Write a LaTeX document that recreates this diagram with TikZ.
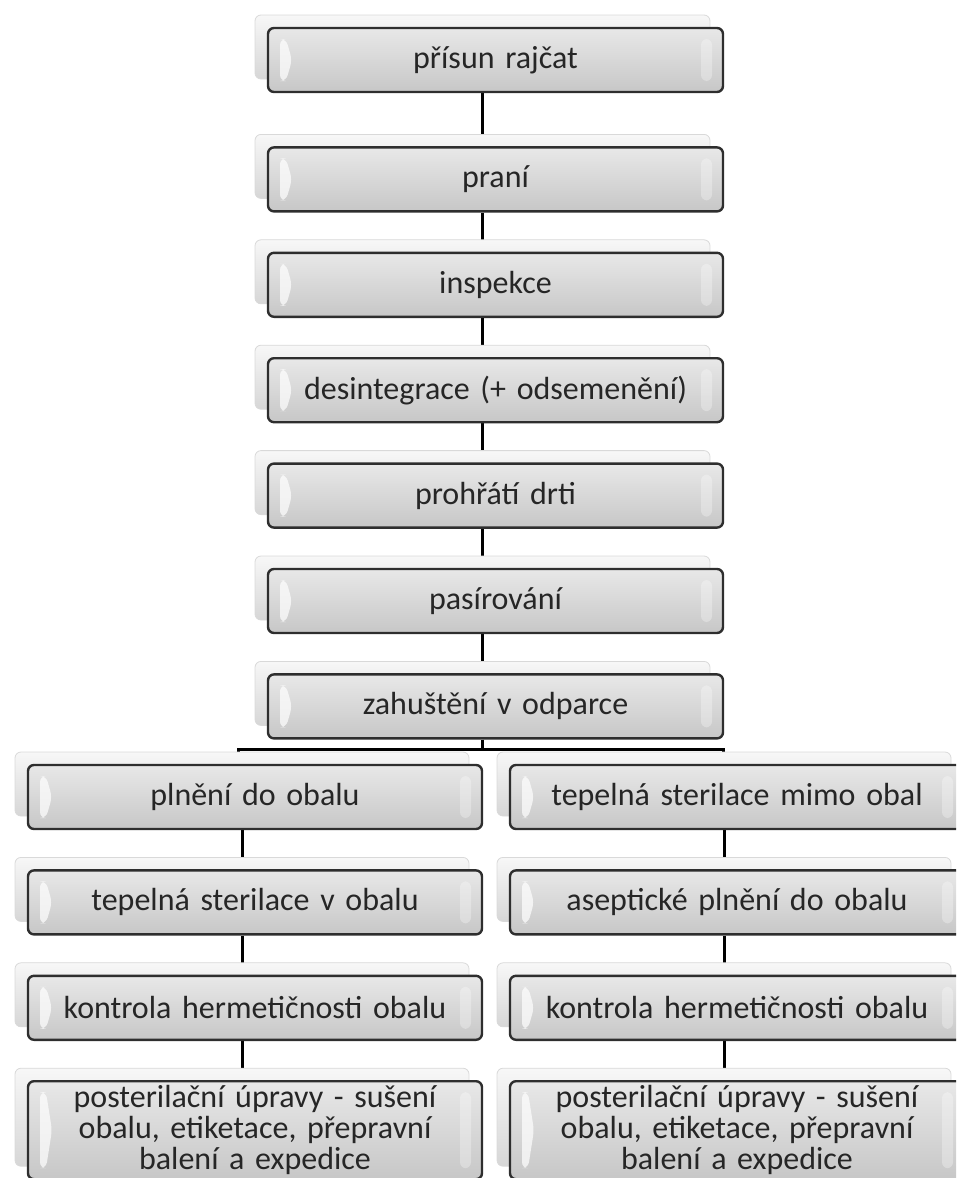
\documentclass[tikz,border=0pt]{standalone}
\usepackage{fontspec}
\setmainfont{Carlito}
\usetikzlibrary{positioning, shadows, backgrounds}

\definecolor{boxedge}{HTML}{2E2E2E}
\definecolor{boxtext}{HTML}{262626}

\begin{document}
\begin{tikzpicture}[
        x=1pt, y=-1pt,
        node distance=39pt,
        step_box/.style={
            draw=boxedge,
            line width=2.4pt,
            rounded corners=6pt,
            minimum width=455pt,
            minimum height=64pt,
            text width=448pt,
            align=center,
            inner sep=0pt,
            top color=black!9,
            bottom color=black!22,
            text=boxtext,
            font=\fontsize{32}{35}\selectfont,
            general shadow={
                shadow xshift=-13pt,
                shadow yshift=13pt,
                draw=black!15,
                line width=0.8pt,
                top color=black!3,
                bottom color=black!16
            },
            path picture={
                \fill[white, opacity=0.7]
                    ([xshift=12pt, yshift=-11pt]path picture bounding box.north west)
                    -- ([xshift=18pt, yshift=-11pt]path picture bounding box.north west)
                    -- ([xshift=24pt]path picture bounding box.west)
                    -- ([xshift=18pt, yshift=11pt]path picture bounding box.south west)
                    -- ([xshift=12pt, yshift=11pt]path picture bounding box.south west)
                    -- cycle;
                \fill[white, opacity=0.3]
                    ([xshift=-22pt, yshift=-11pt]path picture bounding box.north east)
                    rectangle ([xshift=-11pt, yshift=11pt]path picture bounding box.south east);
            }
        },
        tall_box/.style={
            minimum height=98pt,
            font=\fontsize{32}{31}\selectfont
        },
        link_line/.style={
            line width=3pt,
            draw=black
        }
    ]
        \clip (0,0) rectangle (956,1178);

        % main column
        \node[step_box] (prisun) at (495.5,60) {přísun rajčat};
        \node[step_box, below=53pt of prisun] (prani) {praní};
        \node[step_box, below=of prani] (inspekce) {inspekce};
        \node[step_box, below=of inspekce] (desintegrace) {desintegrace (+ odsemenění)};
        \node[step_box, below=of desintegrace] (prohrati) {prohřátí drti};
        \node[step_box, below=of prohrati] (pasirovani) {pasírování};
        \node[step_box, below=of pasirovani] (zahusteni) {zahuštění v odparce};

        % left branch
        \node[step_box, minimum width=454pt] (plneni) at (255,797) {plnění do obalu};
        \node[step_box, minimum width=454pt, below=of plneni] (sterilL) {tepelná sterilace v obalu};
        \node[step_box, minimum width=454pt, below=of sterilL] (kontrolaL) {kontrola hermetičnosti obalu};
        \node[step_box, tall_box, minimum width=454pt, below=of kontrolaL] (upravyL)
            {posterilační úpravy - sušení\\obalu, etiketace, přepravní\\balení a expedice};

        % right branch
        \node[step_box, minimum width=454pt] (sterilR) at (737,797) {tepelná sterilace mimo obal};
        \node[step_box, minimum width=454pt, below=of sterilR] (aseptic) {aseptické plnění do obalu};
        \node[step_box, minimum width=454pt, below=of aseptic] (kontrolaR) {kontrola hermetičnosti obalu};
        \node[step_box, tall_box, minimum width=454pt, below=of kontrolaR] (upravyR)
            {posterilační úpravy - sušení\\obalu, etiketace, přepravní\\balení a expedice};

        \coordinate[below=10pt of zahusteni.south, xshift=-13pt] (split);

        \begin{scope}[on background layer]
            \foreach \a/\b in {prisun/prani, prani/inspekce, inspekce/desintegrace,
                    desintegrace/prohrati, prohrati/pasirovani, pasirovani/zahusteni,
                    plneni/sterilL, sterilL/kontrolaL, kontrolaL/upravyL,
                    sterilR/aseptic, aseptic/kontrolaR, kontrolaR/upravyR}
                \draw[link_line] ([xshift=-13pt]\a.south) -- ([xshift=-13pt]\b.north);
            \draw[link_line] ([xshift=-13pt]zahusteni.south) -- (split);
            \draw[link_line] (split) -| ([xshift=-17pt]plneni.north);
            \draw[link_line] (split) -| ([xshift=-14pt]sterilR.north);
        \end{scope}
    \end{tikzpicture}
\end{document}
